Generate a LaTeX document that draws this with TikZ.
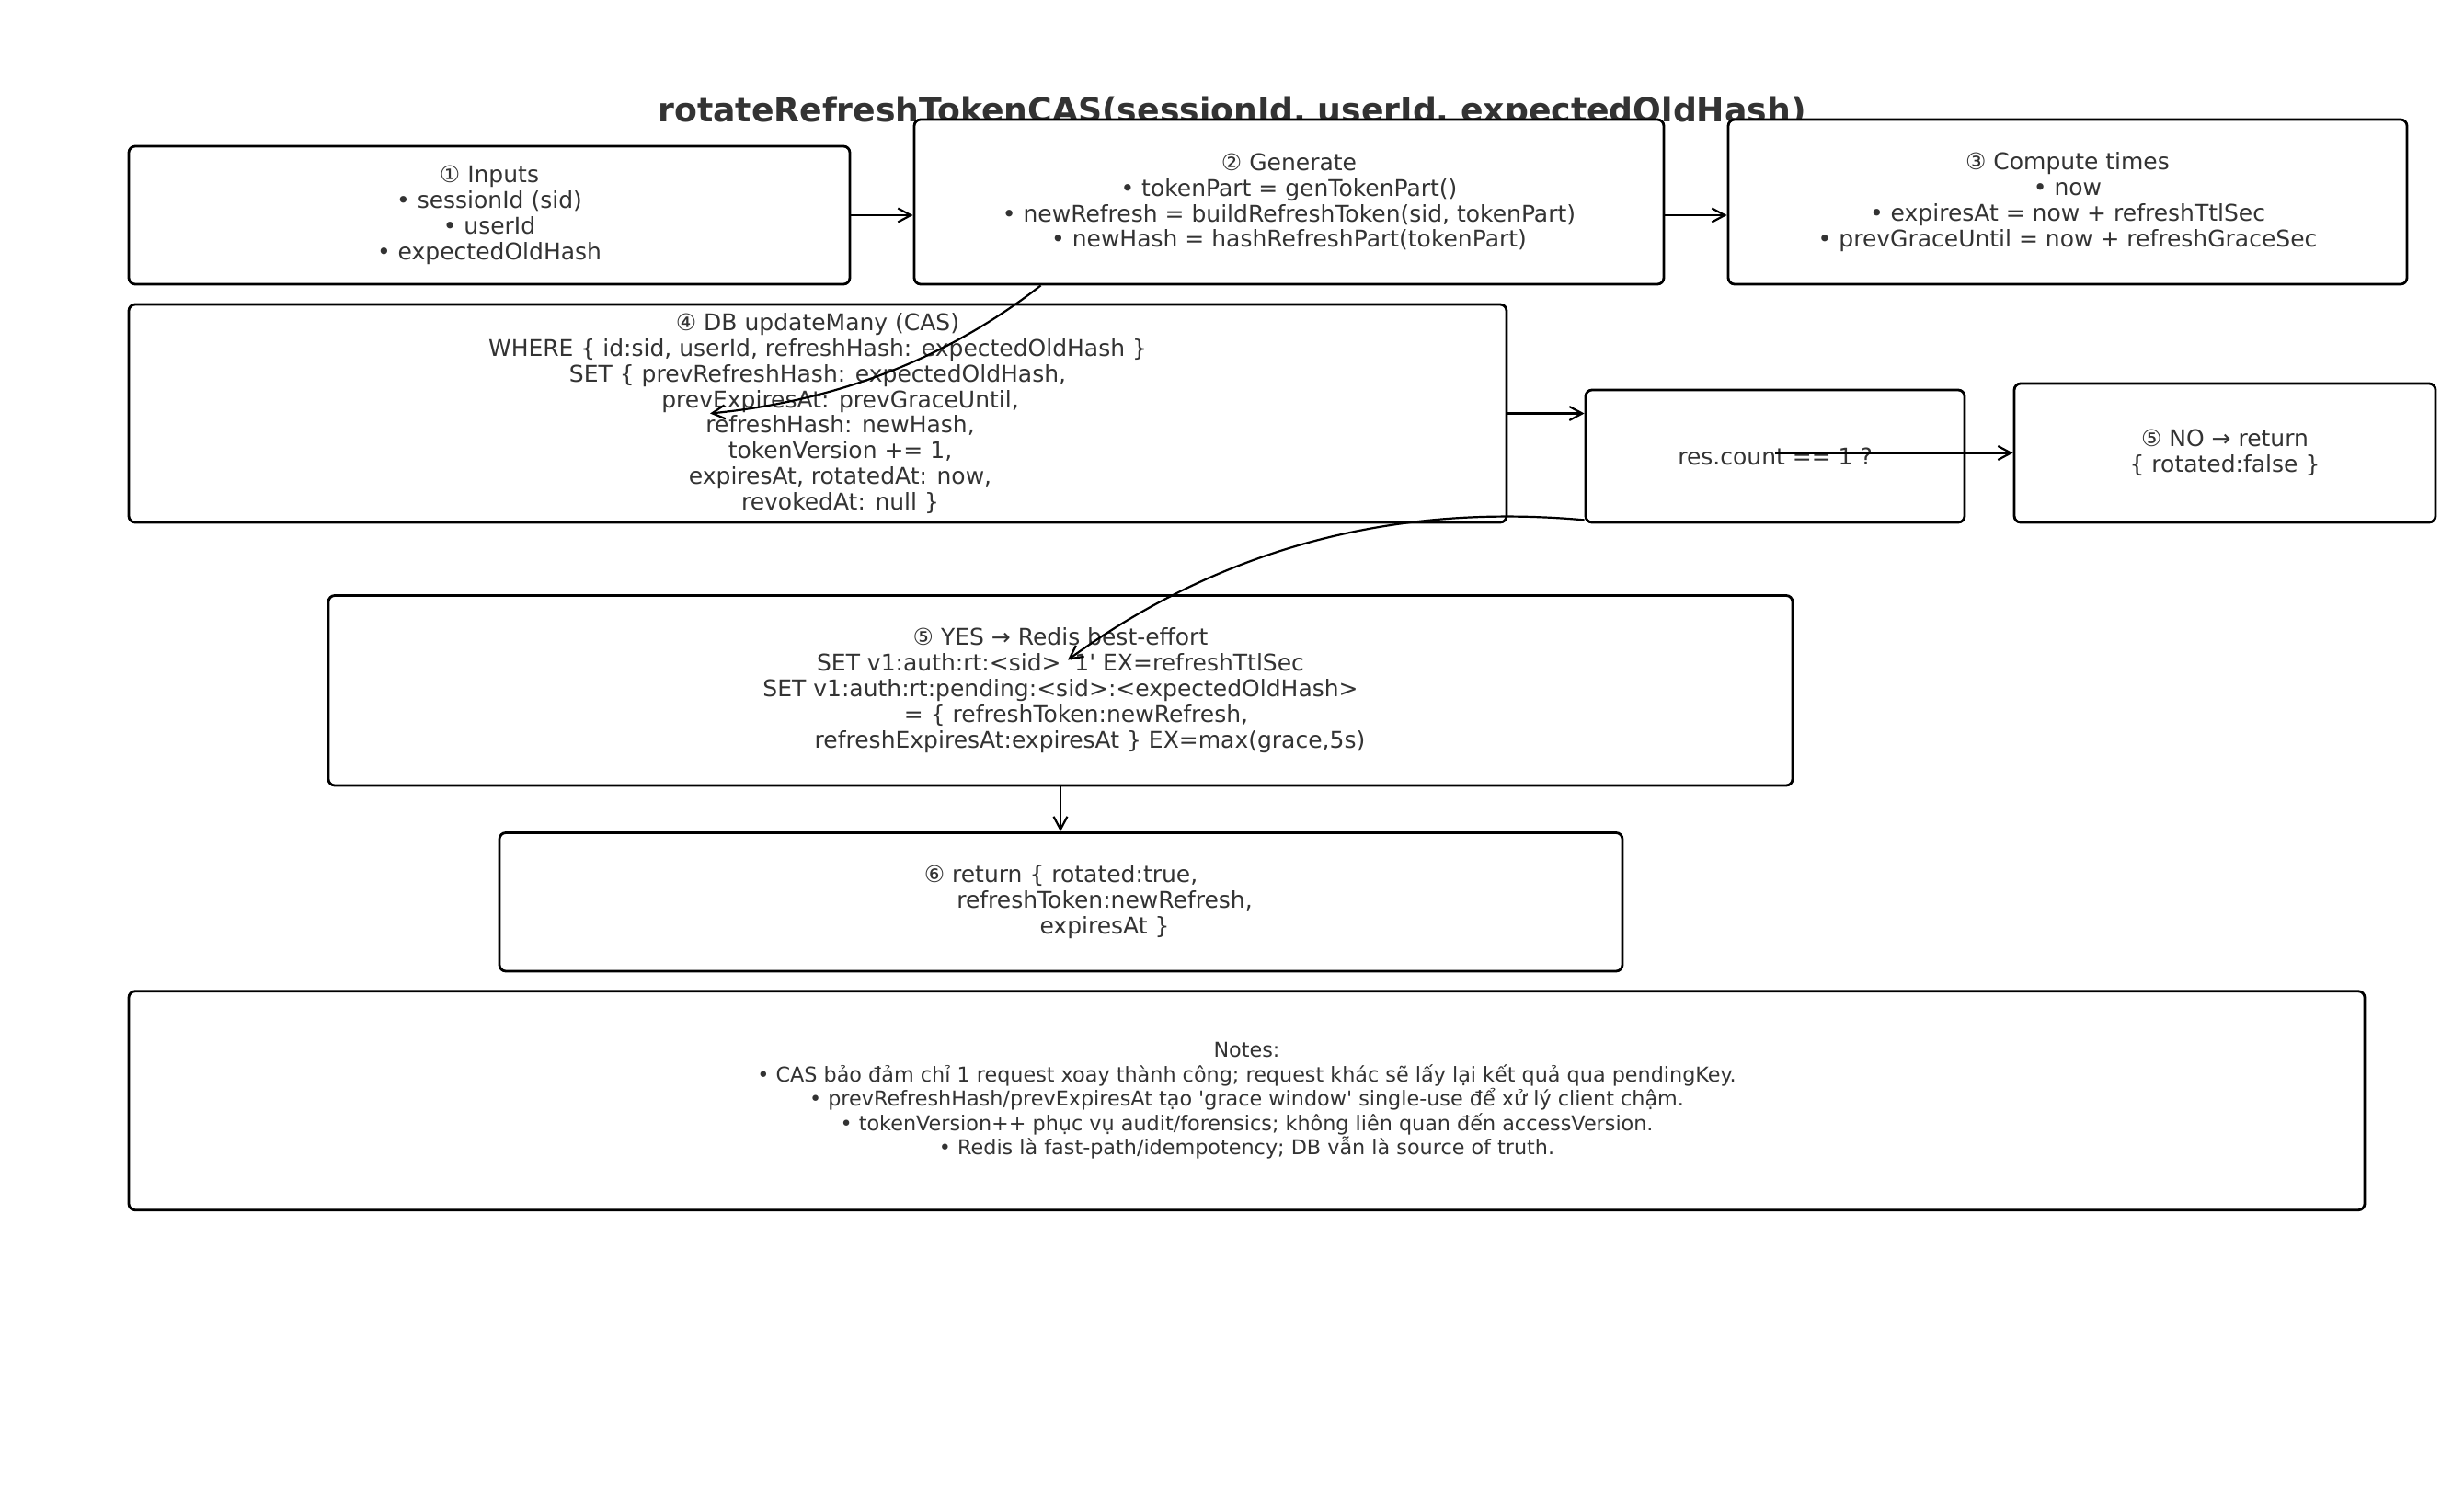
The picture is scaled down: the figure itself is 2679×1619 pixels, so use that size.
\documentclass[tikz,border=0pt]{standalone}
\usepackage{fontspec}
\setmainfont{DejaVu Sans}
\usetikzlibrary{arrows.meta,calc}
\definecolor{txt}{HTML}{333333}
\tikzset{
  box/.style={draw=black, line width=2.8pt, rounded corners=7pt, fill=white,
    inner sep=0pt, align=center, text=txt,
    font=\fontsize{25pt}{27.9pt}\selectfont},
  notebox/.style={box, font=\fontsize{22.3pt}{26.5pt}\selectfont},
  arr/.style={draw=black, line width=2.2pt, -{Straight Barb[length=14pt,width=15pt]}},
  titlestyle/.style={text=txt, font=\fontsize{36.2pt}{40pt}\selectfont\bfseries, inner sep=0pt, anchor=base},
}
\begin{document}
\begin{tikzpicture}[x=1pt,y=-1pt]
\useasboundingbox[fill=white] (0,0) rectangle (2679,1619);

\node[titlestyle] (title) at (1339.5,132) {rotateRefreshTokenCAS(sessionId, userId, expectedOldHash)};

\node[box, minimum width=784pt, minimum height=150pt] (b1) at (532,234)
  {① Inputs\\• sessionId (sid)\\• userId\\• expectedOldHash};
\node[box, minimum width=815pt, minimum height=179pt] (b2) at (1401.5,219.5)
  {② Generate\\• tokenPart = genTokenPart()\\• newRefresh = buildRefreshToken(sid, tokenPart)\\• newHash = hashRefreshPart(tokenPart)};
\node[box, minimum width=738pt, minimum height=179pt] (b3) at (2248,219.5)
  {③ Compute times\\• now\\• expiresAt = now + refreshTtlSec\\• prevGraceUntil = now + refreshGraceSec};
\node[box, minimum width=1498pt, minimum height=237pt] (b4) at (889,449.5)
  {④ DB updateMany (CAS)\\WHERE \{ id:sid, userId, refreshHash: expectedOldHash \}\\SET \{ prevRefreshHash: expectedOldHash,\\\hspace*{49pt}prevExpiresAt: prevGraceUntil,\\\hspace*{49pt}refreshHash: newHash,\\\hspace*{49pt}tokenVersion += 1,\\\hspace*{49pt}expiresAt, rotatedAt: now,\\\hspace*{49pt}revokedAt: null \}};
\node[box, minimum width=412pt, minimum height=144pt] (rc) at (1930,496)
  {res.count == 1 ?};
\node[box, minimum width=458pt, minimum height=151pt] (no) at (2419,492.5)
  {⑤ NO → return\\\{ rotated:false \}};
\node[box, minimum width=1592pt, minimum height=206.5pt] (yes) at (1153,750.75)
  {⑤ YES → Redis best-effort\\SET v1:auth:rt:<sid> \textquotesingle1\textquotesingle{} EX=refreshTtlSec\\SET v1:auth:rt:pending:<sid>:<expectedOldHash>\\\hspace*{34pt}= \{ refreshToken:newRefresh,\\\hspace*{64pt}refreshExpiresAt:expiresAt \} EX=max(grace,5s)};
\node[box, minimum width=1221pt, minimum height=150.5pt] (ret) at (1153.5,980.75)
  {⑥ return \{ rotated:true,\\\hspace*{95pt}refreshToken:newRefresh,\\\hspace*{95pt}expiresAt \}};
\node[notebox, minimum width=2431pt, minimum height=238pt] (notes) at (1355.5,1196.75)
  {Notes:\\• CAS bảo đảm chỉ 1 request xoay thành công; request khác sẽ lấy lại kết quả qua pendingKey.\\• prevRefreshHash/prevExpiresAt tạo \textquotesingle grace window\textquotesingle{} single-use để xử lý client chậm.\\• tokenVersion++ phục vụ audit/forensics; không liên quan đến accessVersion.\\• Redis là fast-path/idempotency; DB vẫn là source of truth.};

% connectors
\draw[arr] (b1.east) -- (b1.east -| b2.west);
\draw[arr] (b1.east -| b2.east) -- (b1.east -| b3.west);
\draw[arr] (b4.east) -- (b4.east -| rc.west);
\draw[arr] (rc.center |- no.west) -- (no.west);
\draw[arr] (yes.south) -- (yes.south |- ret.north);

\coordinate (a1) at ($(b2.south west)+(139,0)$);
\coordinate (a2) at ($(b4.center)+(-117,0)$);
\draw[arr] (a1) .. controls (1031,389) and (911,436) .. (a2);

\coordinate (c1) at ($(rc.south west)+(0,-4)$);
\coordinate (c2) at ($(yes.center)+(8,-33.25)$);
\draw[arr] (c1) .. controls (1513,546.5) and (1326,597.6) .. (c2);
\end{tikzpicture}
\end{document}
